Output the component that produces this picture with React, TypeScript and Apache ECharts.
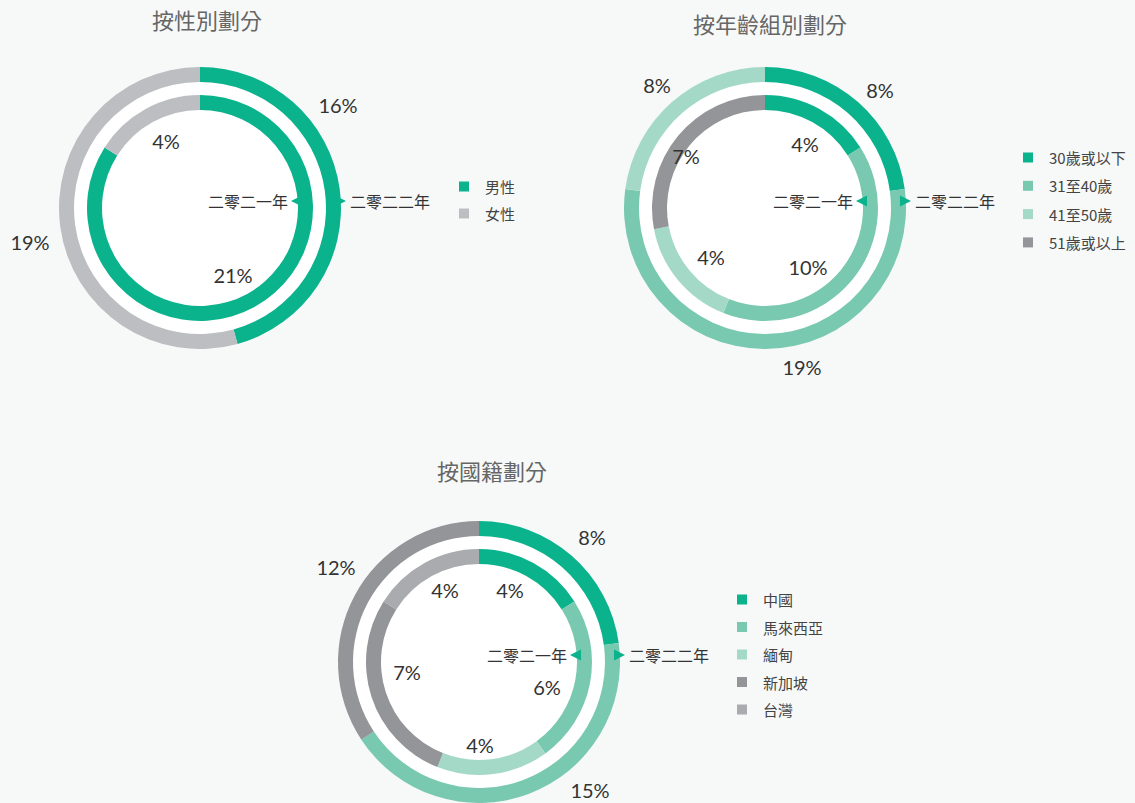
import React, { useEffect, useRef } from "react";
import * as echarts from "echarts";

// ---------- data ----------
const yearLabels = ["二零二一年", "二零二二年"];

const genderTitle = "按性別劃分";
const genderNames = ["男性", "女性"];
const gender2021 = [21, 4];
const gender2022 = [16, 19];

const ageTitle = "按年齡組別劃分";
const ageNames = ["30歲或以下", "31至40歲", "41至50歲", "51歲或以上"];
const age2021 = [4, 10, 4, 7];
const age2022 = [8, 19, 8, 0];

const natTitle = "按國籍劃分";
const natNames = ["中國", "馬來西亞", "緬甸", "新加坡", "台灣"];
const nat2021 = [4, 6, 4, 7, 4];
const nat2022 = [8, 15, 0, 12, 0];

// ---------- styles / layout ----------
const C_DARK = "#0bb38d";
const C_MED = "#78c9af";
const C_LIGHT = "#a4d9c7";
const C_DGRAY = "#939598";
const C_LGRAY = "#bcbec1";
const C_TW = "#a9abae";

const genderColors = [C_DARK, C_LGRAY];
const ageColors = [C_DARK, C_MED, C_LIGHT, C_DGRAY];
const natColors = [C_DARK, C_MED, C_LIGHT, C_DGRAY, C_TW];

const CJK = '"Noto Sans CJK TC", "Noto Sans", sans-serif';
const NUM = 'Lato, "Noto Sans", sans-serif';

type ChartDef = {
  title: string;
  titleX: number;
  titleY: number;
  cx: number;
  cy: number;
  names: string[];
  colors: string[];
  inner: number[];
  outer: number[];
  innerOff: number[][];
  outerOff: number[][];
  legendX: number;
  legendY: number;
  legendGap: number;
};

const charts: ChartDef[] = [
  {
    title: genderTitle,
    titleX: 202,
    titleY: 3,
    cx: 200,
    cy: 208,
    names: genderNames,
    colors: genderColors,
    inner: gender2021,
    outer: gender2022,
    innerOff: [
      [33, 67],
      [-34, -67],
    ],
    outerOff: [
      [138, -103],
      [-170, 34],
    ],
    legendX: 459,
    legendY: 179,
    legendGap: 12,
  },
  {
    title: ageTitle,
    titleX: 765,
    titleY: 7,
    cx: 765,
    cy: 208,
    names: ageNames,
    colors: ageColors,
    inner: age2021,
    outer: age2022,
    innerOff: [
      [40, -64],
      [43, 59],
      [-54, 49],
      [-79, -52],
    ],
    outerOff: [
      [115, -118],
      [37, 159],
      [-108, -123],
      [0, 0],
    ],
    legendX: 1023,
    legendY: 150,
    legendGap: 13.3,
  },
  {
    title: natTitle,
    titleX: 487,
    titleY: 454,
    cx: 479,
    cy: 662,
    names: natNames,
    colors: natColors,
    inner: nat2021,
    outer: nat2022,
    innerOff: [
      [31, -72],
      [68, 25],
      [1, 83],
      [-72, 10],
      [-34, -72],
    ],
    outerOff: [
      [113, -125],
      [111, 128],
      [0, 0],
      [-143, -95],
      [0, 0],
    ],
    legendX: 737,
    legendY: 592,
    legendGap: 12.5,
  },
];

function buildOption() {
  const series: any[] = [];
  const legend: any[] = [];
  const title: any[] = [];
  const graphic: any[] = [];

  charts.forEach((c) => {
    title.push({
      text: c.title,
      left: c.titleX,
      top: c.titleY,
      textAlign: "center",
      textStyle: {
        fontFamily: CJK,
        fontSize: 22,
        fontWeight: "normal",
        color: "#666666",
      },
    });

    // white disc behind the rings
    series.push({
      type: "pie",
      silent: true,
      center: [c.cx, c.cy],
      radius: [0, 126],
      label: { show: false },
      labelLine: { show: false },
      itemStyle: { color: "#ffffff" },
      data: [{ name: "", value: 1 }],
      z: 1,
    });

    const ring = (vals: number[], offs: number[][], radius: number[]) => ({
      type: "pie",
      center: [c.cx, c.cy],
      radius,
      startAngle: 90,
      clockwise: true,
      avoidLabelOverlap: false,
      z: 3,
      label: {
        show: true,
        position: "inside",
        formatter: (p: any) => (p.value ? p.value + "%" : ""),
        fontFamily: NUM,
        fontSize: 20,
        color: "#333333",
      },
      labelLine: { show: false },
      labelLayout: (p: any) => {
        const o = offs[p.dataIndex] || [0, 0];
        return {
          x: c.cx + o[0],
          y: c.cy + o[1],
          align: "center",
          verticalAlign: "middle",
        };
      },
      emphasis: { disabled: true },
      data: c.names.map((n, i) => ({
        name: n,
        value: vals[i],
        itemStyle: { color: c.colors[i] },
      })),
    });

    series.push(ring(c.inner, c.innerOff, [98, 113]));
    series.push(ring(c.outer, c.outerOff, [126, 141]));

    legend.push({
      data: c.names,
      orient: "vertical",
      left: c.legendX,
      top: c.legendY,
      padding: 0,
      icon: "rect",
      itemWidth: 10,
      itemHeight: 10,
      itemGap: c.legendGap,
      selectedMode: false,
      textStyle: {
        fontFamily: CJK,
        fontSize: 15,
        lineHeight: 15,
        color: "#444444",
        padding: [0, 0, 0, 11],
      },
    });

    const ty = c.cy - 7;
    // 2021 marker (inner ring, pointing left)
    graphic.push({
      type: "polygon",
      z: 10,
      shape: {
        points: [
          [c.cx + 91, ty],
          [c.cx + 102, ty - 5.5],
          [c.cx + 102, ty + 5.5],
        ],
      },
      style: { fill: C_DARK },
    });
    // 2022 marker (outer ring, pointing right)
    graphic.push({
      type: "polygon",
      z: 10,
      shape: {
        points: [
          [c.cx + 146, ty],
          [c.cx + 135, ty - 5.5],
          [c.cx + 135, ty + 5.5],
        ],
      },
      style: { fill: C_DARK },
    });
    graphic.push({
      type: "text",
      z: 10,
      x: c.cx + 88,
      y: ty,
      style: {
        text: yearLabels[0],
        fontFamily: CJK,
        fontSize: 16,
        fill: "#333333",
        align: "right",
        verticalAlign: "middle",
      },
    });
    graphic.push({
      type: "text",
      z: 10,
      x: c.cx + 150,
      y: ty,
      style: {
        text: yearLabels[1],
        fontFamily: CJK,
        fontSize: 16,
        fill: "#333333",
        align: "left",
        verticalAlign: "middle",
      },
    });
  });

  return {
    animation: false,
    backgroundColor: "#f7f9f9",
    title,
    legend,
    series,
    graphic,
  };
}

export default function App() {
  const ref = useRef<HTMLDivElement>(null);
  useEffect(() => {
    document.body.style.margin = "0";
    if (!ref.current) return;
    const chart = echarts.init(ref.current, undefined, { renderer: "svg" });
    chart.setOption(buildOption() as any);
    return () => chart.dispose();
  }, []);
  return <div ref={ref} style={{ width: 1135, height: 803 }} />;
}
